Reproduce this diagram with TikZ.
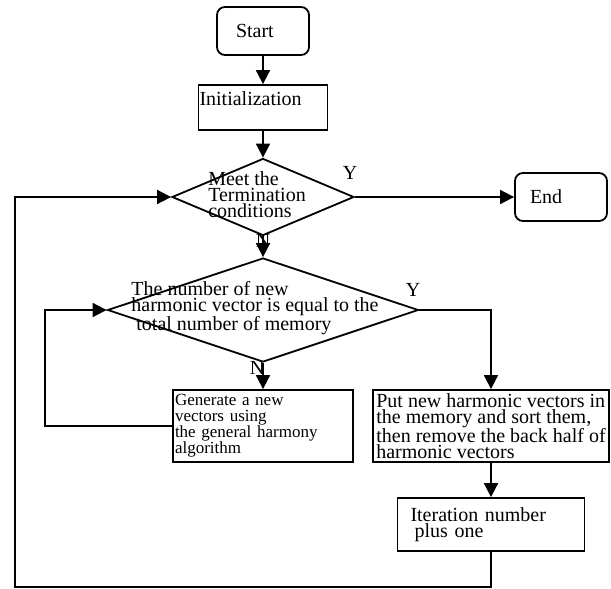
\documentclass[tikz,border=0pt]{standalone}
\usepackage{fontspec}
\setmainfont{Liberation Serif}
\usetikzlibrary{arrows.meta, shapes.geometric}

\begin{document}
\begin{tikzpicture}[x=1pt, y=-1pt,
    every node/.style={font=\fontsize{20}{16}\selectfont},
    term/.style={rectangle, rounded corners=8pt, draw=black, line width=1.8pt, align=left, minimum height=48pt},
    proc/.style={rectangle, draw=black, line width=1.8pt, align=left, inner ysep=0pt},
    decision/.style={diamond, draw=black, line width=1.8pt, inner sep=0pt},
    tag/.style={inner sep=0pt},
    arrow/.style={-{Triangle[length=14pt, width=14pt]}, line width=1.8pt}
]
\useasboundingbox (0,0) rectangle (611,589);

\node[term, minimum width=92pt, text width=54pt, inner xsep=19pt] (start) at (263,31) {Start};
\node[proc, minimum width=129pt, minimum height=45pt, text width=127pt, inner xsep=1pt, text height=14pt, text depth=19pt] (init) at (263,107.5) {Initialization};
\node[decision, minimum width=182pt, minimum height=77pt, label={[align=left, xshift=-6pt, yshift=2pt]center:{Meet the\\Termination\\conditions}}] (cond) at (263,197) {};
\node[term, minimum width=92pt, text width=62pt, inner xsep=15pt] (end) at (561,197) {End};
\node[decision, minimum width=311pt, minimum height=104pt, label={[align=left, xshift=-8pt, yshift=2pt]center:{The number of new\\harmonic vector is equal to the\\\hspace{5pt}total number of memory}}] (full) at (263,310) {};
\node[proc, minimum width=180pt, minimum height=72pt, text width=176pt, inner xsep=2pt, font=\fontsize{17}{16}\selectfont] (gen) at (263,426) {Generate a new\\vectors using\\the general harmony\\algorithm};
\node[proc, minimum width=233pt, minimum height=72pt] (put) at (491,426) {Put new harmonic vectors in\\the memory and sort them,\\then remove the back half of\\harmonic vectors};
\node[proc, minimum width=187pt, minimum height=53pt, text width=161pt, inner xsep=13pt] (iter) at (491,524.5) {Iteration number\\\hspace{4pt}plus one};

\node[tag] (ycond) at (350,173) {Y};
\node[tag] (ncond) at (263,241) {N};
\node[tag] (yfull) at (413,290) {Y};
\node[tag] (nfull) at (257,368) {N};

\coordinate (outer) at (15,587);
\coordinate (inner) at (45,310);

\draw[arrow] (start) -- (init);
\draw[arrow] (init) -- (cond);
\draw[arrow] (cond.east) -- (end.west);
\draw[arrow] (cond) -- (full);
\draw[arrow] (full) -- (gen);
\draw[arrow] (full.east) -| (put.north);
\draw[arrow] (put) -- (iter);
\draw[arrow] (iter.south) |- (outer) |- (cond.west);
\draw[arrow] (gen.west) -| (inner) -- (full.west);
\end{tikzpicture}
\end{document}
